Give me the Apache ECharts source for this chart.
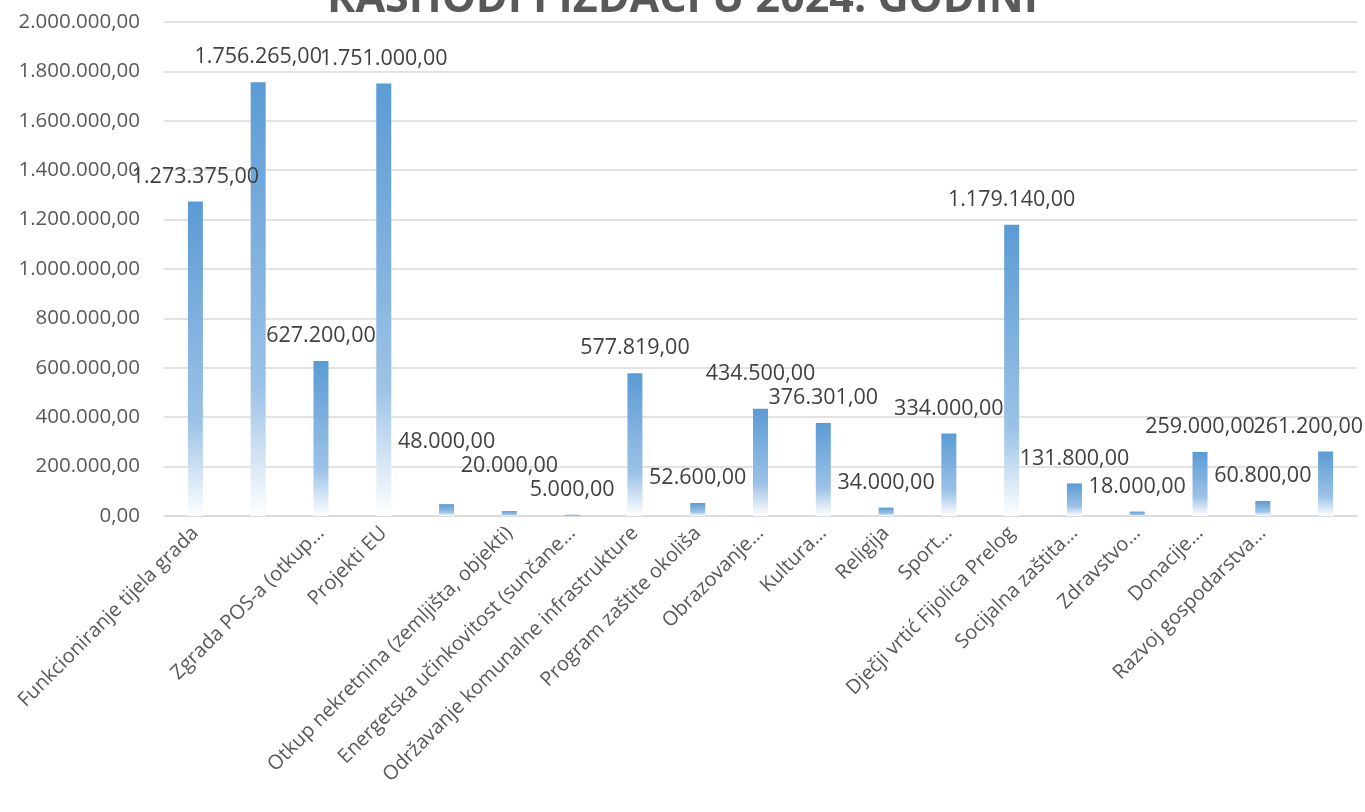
<!DOCTYPE html>
<html>
<head>
<meta charset="utf-8">
<script src="https://cdn.jsdelivr.net/npm/echarts@6/dist/echarts.min.js"></script>
<style>
  html, body { margin: 0; padding: 0; background: #fff; }
  #chart { width: 1365px; height: 812px; }
</style>
</head>
<body>
<div id="chart"></div>
<script>
const chartTitle = 'RASHODI I IZDACI U 2024. GODINI';

// kategorije (tri stupca nemaju naziv na osi)
const categories = [
  'Funkcioniranje tijela grada',
  '',
  'Zgrada POS-a (otkup…',
  'Projekti EU',
  '',
  'Otkup nekretnina (zemljišta, objekti)',
  'Energetska učinkovitost (sunčane…',
  'Održavanje komunalne infrastrukture',
  'Program zaštite okoliša',
  'Obrazovanje…',
  'Kultura…',
  'Religija',
  'Sport…',
  'Dječji vrtić Fijolica Prelog',
  'Socijalna zaštita…',
  'Zdravstvo…',
  'Donacije…',
  'Razvoj gospodarstva…',
  ''
];

const values = [
  1273375, 1756265, 627200, 1751000, 48000, 20000, 5000, 577819, 52600,
  434500, 376301, 34000, 334000, 1179140, 131800, 18000, 259000, 60800, 261200
];

const yMin = 0;
const yMax = 2000000;
const yStep = 200000;

// hrvatski format: 1.234.567,00
function fmt(v) {
  const parts = Number(v).toFixed(2).split('.');
  return parts[0].replace(/\B(?=(\d{3})+(?!\d))/g, '.') + ',' + parts[1];
}

const dom = document.getElementById('chart');
const chart = echarts.init(dom);
const W = dom.clientWidth;

// pomaci oznaka (računaju se nakon prvog crtanja)
const labelRects = [];
let labelDx = [];
let labelDy = [];

function layoutLabel(params) {
  const i = params.dataIndex;
  const r = params.labelRect;
  labelRects[i] = { x: r.x, y: r.y, width: r.width, height: r.height };
  return { dx: labelDx[i] || 0, dy: labelDy[i] || 0 };
}

const option = {
  animation: false,
  textStyle: { fontFamily: '"Open Sans", sans-serif' },
  title: {
    text: chartTitle,
    left: 'center',
    top: -27,
    textStyle: {
      fontSize: 43,
      fontWeight: 'bold',
      color: '#595959',
      fontFamily: '"Open Sans", sans-serif'
    }
  },
  grid: {
    left: 164,
    right: 8,
    top: 22,
    bottom: 296,
    containLabel: false
  },
  xAxis: {
    type: 'category',
    data: categories,
    axisLine: { lineStyle: { color: '#d9d9d9', width: 1.5 } },
    axisTick: { show: false },
    axisLabel: {
      interval: 0,
      rotate: 45,
      margin: 14,
      fontSize: 20,
      color: '#595959'
    }
  },
  yAxis: {
    type: 'value',
    min: yMin,
    max: yMax,
    interval: yStep,
    axisLine: { show: false },
    axisTick: { show: false },
    axisLabel: {
      fontSize: 20.5,
      color: '#595959',
      margin: 24,
      formatter: fmt
    },
    splitLine: { lineStyle: { color: '#d9d9d9', width: 1.5 } }
  },
  series: [{
    type: 'bar',
    data: values,
    barWidth: 15,
    itemStyle: {
      color: new echarts.graphic.LinearGradient(0, 0, 0, 1, [
        { offset: 0, color: '#5b9bd5' },
        { offset: 0.7, color: '#9cc2e6' },
        { offset: 1, color: '#ffffff' }
      ])
    },
    label: {
      show: true,
      position: 'top',
      distance: 14,
      fontSize: 21.5,
      color: '#404040',
      formatter: p => fmt(p.value)
    },
    labelLayout: layoutLabel
  }]
};

chart.setOption(option);

// oznake koje se preklapaju podignu se iznad susjeda s desne strane,
// a zadnja se pomakne ulijevo da ne izađe iz slike
const n = labelRects.length;
labelDx = labelRects.map(r => Math.min(0, (W - 2) - (r.x + r.width)));
labelDy = labelRects.map(() => 0);
for (let i = n - 2; i >= 0; i--) {
  let moved = true;
  let guard = 0;
  while (moved && guard++ < 20) {
    moved = false;
    const a = labelRects[i];
    const ax = a.x + labelDx[i], ay = a.y + labelDy[i];
    for (let j = i + 1; j < n; j++) {
      const b = labelRects[j];
      const bx = b.x + labelDx[j], by = b.y + labelDy[j];
      const ox = Math.min(ax + a.width, bx + b.width) - Math.max(ax, bx);
      const oy = Math.min(ay + a.height, by + b.height) - Math.max(ay, by);
      if (ox > 10 && oy > 0) {
        labelDy[i] -= oy + 2;
        moved = true;
        break;
      }
    }
  }
}
chart.setOption(option, true);
</script>
</body>
</html>
